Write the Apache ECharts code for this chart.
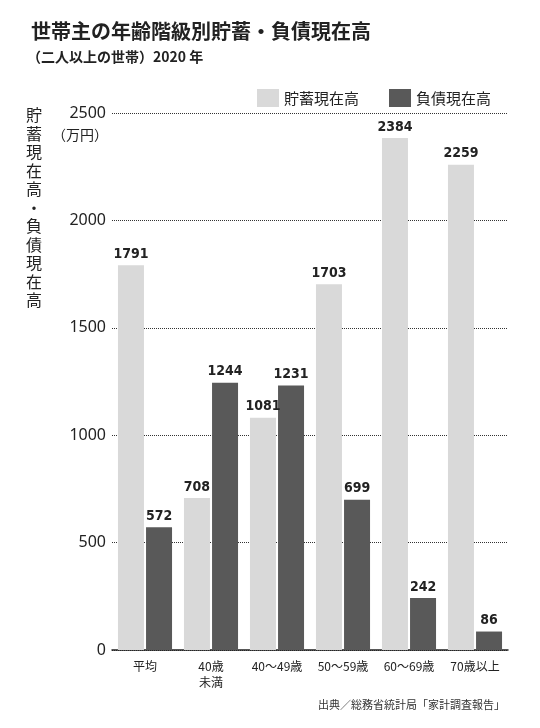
<!DOCTYPE html>
<html><head><meta charset="utf-8">
<script src="https://cdn.jsdelivr.net/npm/echarts@6/dist/echarts.min.js"></script>
<style>html,body{margin:0;padding:0;background:#fff}#c{width:540px;height:728px}</style>
</head><body><div id="c"></div>
<script>
const categories = ['平均', '40歳\n未満', '40～49歳', '50～59歳', '60～69歳', '70歳以上'];
const savings = [1791, 708, 1081, 1703, 2384, 2259];
const debts = [572, 1244, 1231, 699, 242, 86];
const yTicks = [0, 500, 1000, 1500, 2000, 2500];
const F = '"Noto Sans CJK JP", "Noto Sans", sans-serif';
const NUM = '"Liberation Sans Narrow", "DejaVu Sans Condensed", sans-serif';
const chart = echarts.init(document.getElementById('c'));
const lbl = {show: true, position: 'top', color: '#222', fontFamily: NUM, fontWeight: 'bold', fontSize: 14, distance: 4};
chart.setOption({
  animation: false,
  textStyle: {fontFamily: F},
  title: [
    {text: '世帯主の年齢階級別貯蓄・負債現在高', left: 26, top: 16, textStyle: {fontSize: 20, fontWeight: 'bold', color: '#222', fontFamily: F}},
    {text: '（二人以上の世帯）2020 年', left: 22, top: 45, textStyle: {fontSize: 14, fontWeight: 'bold', color: '#222', fontFamily: F}},
    {text: '出典／総務省統計局「家計調査報告」', right: 30, top: 694, textStyle: {fontSize: 11, fontWeight: 'normal', color: '#333', fontFamily: F}}
  ],
  graphic: [
    {type: 'text', left: 26, top: 106, style: {text: '貯\n蓄\n現\n在\n高\n・\n負\n債\n現\n在\n高', font: '16px ' + F, fill: '#222', lineHeight: 18.5}},
    {type: 'text', left: 52, top: 128, style: {text: '（万円）', font: '14px ' + F, fill: '#222'}}
  ],
  legend: {top: 84, right: 44, itemWidth: 22, itemHeight: 18, itemGap: 30, icon: 'rect',
    textStyle: {fontSize: 15, color: '#222', fontFamily: F}},
  grid: {left: 112, right: 32, top: 113, bottom: 78},
  xAxis: {type: 'category', data: categories,
    axisLine: {lineStyle: {color: '#222', width: 1.5}}, axisTick: {show: false},
    axisLabel: {fontSize: 12, color: '#222', lineHeight: 16, margin: 8, fontFamily: F}},
  yAxis: {type: 'value', min: 0, max: 2500, interval: 500,
    axisLine: {show: false}, axisTick: {show: false},
    axisLabel: {fontSize: 16, color: '#222', margin: 6, fontFamily: '"Noto Sans", sans-serif', formatter: v => String(v)},
    splitLine: {lineStyle: {type: 'dotted', color: '#333', width: 1}}},
  series: [
    {name: '貯蓄現在高', type: 'bar', data: savings, barWidth: 26, barGap: '8%', itemStyle: {color: '#d9d9d9'}, label: lbl},
    {name: '負債現在高', type: 'bar', data: debts, barWidth: 26, itemStyle: {color: '#595959'}, label: lbl}
  ]
});
</script></body></html>
